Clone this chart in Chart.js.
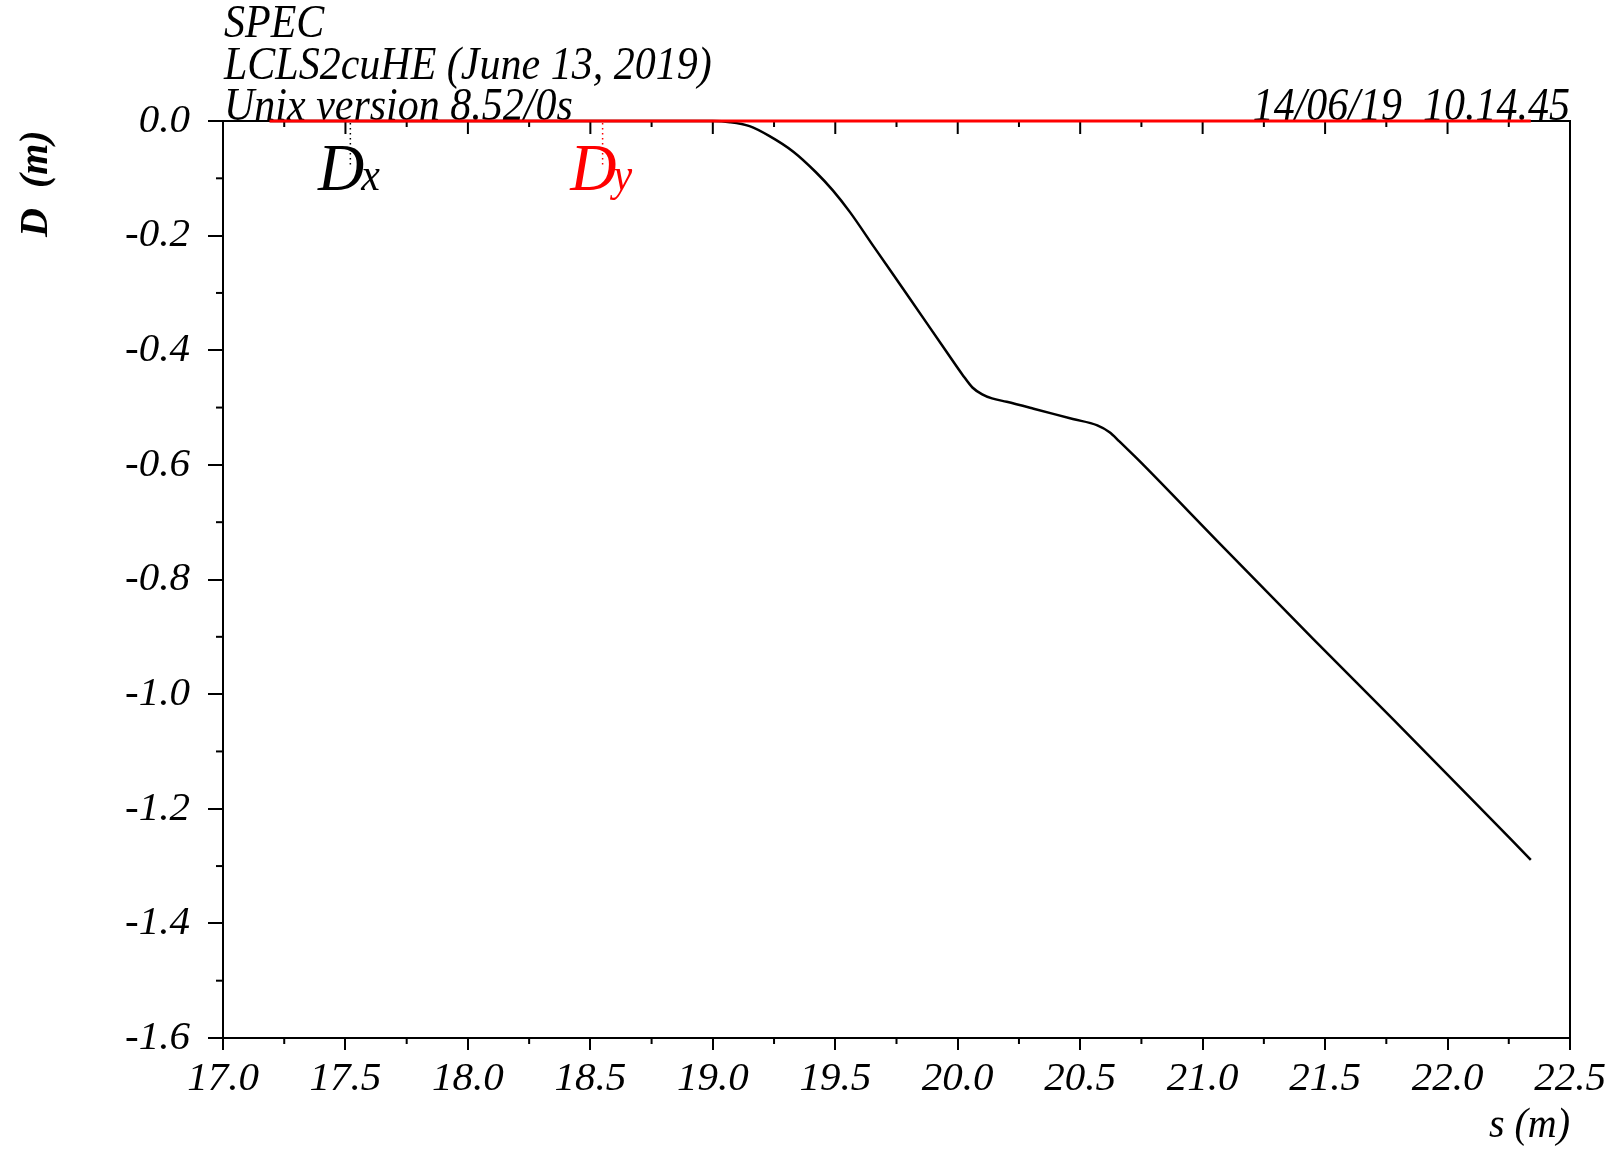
<!DOCTYPE html>
<html>
<head>
<meta charset="utf-8">
<script src="https://cdn.jsdelivr.net/npm/chart.js@4.4.1/dist/chart.umd.min.js"></script>
<style>
  html, body { margin: 0; padding: 0; background: #fff; }
  canvas { display: block; }
</style>
</head>
<body>
<canvas id="chart" width="1619" height="1155"></canvas>
<script>
// s (m) and D (m)
const sDx = [17.19, 19.00, 19.07, 19.15, 19.23, 19.33, 19.42, 19.49, 19.56, 19.66,
             19.80, 19.95, 20.02, 20.06, 20.10, 20.14, 20.20, 20.31, 20.47, 20.57,
             20.62, 20.66, 20.72, 20.76, 21.06, 21.45, 21.78, 22.10, 22.34];
const dxValues = [0, 0, -0.002, -0.009, -0.026, -0.054, -0.089, -0.121, -0.159, -0.221,
                  -0.307, -0.400, -0.443, -0.465, -0.477, -0.484, -0.490, -0.502, -0.520, -0.531,
                  -0.543, -0.559, -0.584, -0.601, -0.733, -0.903, -1.045, -1.184, -1.289];
const sDy = [17.19, 22.34];
const dyValues = [0, 0];

// legend markers along the top edge
const legendNames = ['x', 'y'];
const legendS = [17.52, 18.55];
const legendColors = ['#000000', '#ff0000'];

const headerLines = ['SPEC', 'LCLS2cuHE (June 13, 2019)', 'Unix version 8.52/0s'];
const dateStamp = '14/06/19  10.14.45';

const SERIF = "'Liberation Serif', 'Times New Roman', serif";

const toPoints = (xs, ys) => xs.map((s, i) => ({ x: s, y: ys[i] }));
const fmt = (v) => (Math.abs(v) < 1e-9 ? '0.0' : v.toFixed(1));

// text a bit taller than wide, like the original plotter font
function tallText(ctx, text, x, y, sy) {
    ctx.save();
    ctx.translate(x, y);
    ctx.scale(1, sy);
    ctx.fillText(text, 0, 0);
    ctx.restore();
}

// frame, minor ticks, texts and legend, drawn under the curves
const decorations = {
    id: 'decorations',
    beforeDatasetsDraw(chart) {
        const { ctx, chartArea: a, scales: { x, y } } = chart;
        ctx.save();
        ctx.strokeStyle = '#000';
        ctx.lineWidth = 2;

        // top and right edges of the box
        ctx.beginPath();
        ctx.moveTo(a.left, a.top);
        ctx.lineTo(a.right, a.top);
        ctx.lineTo(a.right, a.bottom);
        ctx.stroke();

        // s ticks: inward on top, minor outward at the bottom
        for (let k = 0; k <= 22; k++) {
            const px = x.getPixelForValue(17 + k * 0.25);
            const major = k % 2 === 0;
            ctx.beginPath();
            ctx.moveTo(px, a.top);
            ctx.lineTo(px, a.top + (major ? 13 : 6));
            if (!major) {
                ctx.moveTo(px, a.bottom);
                ctx.lineTo(px, a.bottom + 6);
            }
            ctx.stroke();
        }
        // minor D ticks
        for (let k = 1; k < 16; k += 2) {
            const py = y.getPixelForValue(-k * 0.1);
            ctx.beginPath();
            ctx.moveTo(a.left - 7, py);
            ctx.lineTo(a.left, py);
            ctx.stroke();
        }

        // header
        ctx.fillStyle = '#000';
        ctx.font = `italic 42px ${SERIF}`;
        ctx.textAlign = 'left';
        ctx.textBaseline = 'alphabetic';
        const baselines = [37, 79, 120];
        headerLines.forEach((t, i) => tallText(ctx, t, a.left + 1, baselines[i], 1.1));
        ctx.textAlign = 'right';
        tallText(ctx, dateStamp, a.right, 120, 1.1);

        // axis titles
        ctx.font = `italic 40px ${SERIF}`;
        tallText(ctx, 's (m)', a.right, 1137, 1.05);
        ctx.save();
        ctx.translate(47, 237);
        ctx.rotate(-Math.PI / 2);
        ctx.textAlign = 'left';
        ctx.font = `italic bold 40px ${SERIF}`;
        ctx.fillText('D  (m)', 0, 0);
        ctx.restore();

        // legend: dotted marker + label
        legendNames.forEach((n, i) => {
            const px = x.getPixelForValue(legendS[i]);
            ctx.save();
            ctx.strokeStyle = legendColors[i];
            ctx.lineWidth = 1.5;
            ctx.setLineDash([1.5, 3.5]);
            ctx.beginPath();
            ctx.moveTo(px, a.top + 2);
            ctx.lineTo(px, a.top + 46);
            ctx.stroke();
            ctx.restore();

            ctx.fillStyle = legendColors[i];
            ctx.textAlign = 'left';
            ctx.font = `italic 64px ${SERIF}`;
            const wD = ctx.measureText('D').width;
            ctx.font = `italic 42px ${SERIF}`;
            const wSub = ctx.measureText(n).width;
            const left = px - (wD + wSub) / 2;
            ctx.font = `italic 64px ${SERIF}`;
            tallText(ctx, 'D', left, 190, 1.05);
            ctx.font = `italic 42px ${SERIF}`;
            tallText(ctx, n, left + wD - 3, 190, 1.1);
        });
        ctx.restore();
    }
};

const ctx = document.getElementById('chart').getContext('2d');

new Chart(ctx, {
    type: 'line',
    data: {
        datasets: [
            {
                label: 'Dy',
                data: toPoints(sDy, dyValues),
                borderColor: '#ff0000',
                borderWidth: 3,
                pointRadius: 0,
                clip: false,
            },
            {
                label: 'Dx',
                data: toPoints(sDx, dxValues),
                borderColor: '#000000',
                borderWidth: 2.5,
                pointRadius: 0,
                cubicInterpolationMode: 'monotone',
                borderJoinStyle: 'round',
                clip: false,
            },
        ],
    },
    options: {
        responsive: false,
        animation: false,
        devicePixelRatio: 1,
        layout: { padding: { top: 121, right: 49, bottom: 0, left: 0 } },
        plugins: {
            legend: { display: false },
            tooltip: { enabled: false },
        },
        scales: {
            x: {
                type: 'linear',
                min: 17,
                max: 22.5,
                afterFit: (scale) => { scale.height = 117; },
                ticks: {
                    stepSize: 0.5,
                    autoSkip: false,
                    maxRotation: 0,
                    padding: 5,
                    color: '#000',
                    font: { family: SERIF, size: 41, style: 'italic' },
                    callback: (v) => fmt(v),
                },
                grid: { drawOnChartArea: false, tickLength: 12, color: '#000', lineWidth: 2 },
                border: { display: true, color: '#000', width: 2 },
            },
            y: {
                type: 'linear',
                min: -1.6,
                max: 0,
                afterFit: (scale) => { scale.width = 223; },
                ticks: {
                    stepSize: 0.2,
                    padding: 18,
                    color: '#000',
                    font: { family: SERIF, size: 41, style: 'italic' },
                    callback: (v) => fmt(v),
                },
                grid: { drawOnChartArea: false, tickLength: 15, color: '#000', lineWidth: 2 },
                border: { display: true, color: '#000', width: 2 },
            },
        },
    },
    plugins: [decorations],
});
</script>
</body>
</html>
